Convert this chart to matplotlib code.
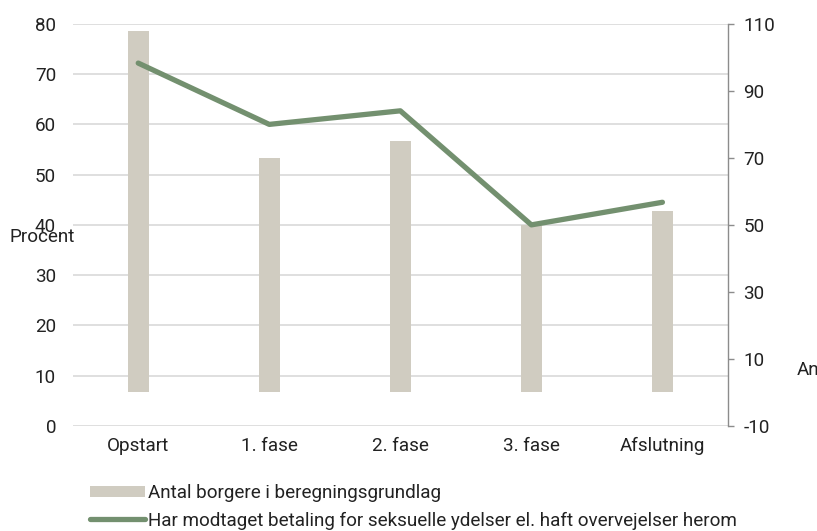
import matplotlib
matplotlib.use("Agg")
import matplotlib.pyplot as plt
from matplotlib.patches import Patch
from matplotlib.lines import Line2D

categories = ["Opstart", "1. fase", "2. fase", "3. fase", "Afslutning"]
antal_borgere = [108, 70, 75, 50, 54]
betaling_pct = [72.2, 60.0, 62.7, 40.0, 44.5]
left_ticks = [0, 10, 20, 30, 40, 50, 60, 70, 80]
right_ticks = [-10, 10, 30, 50, 70, 90, 110]

plt.rcParams['font.family'] = ['Roboto', 'DejaVu Sans']
plt.rcParams['axes.unicode_minus'] = False
bar_color = "#D0CCC1"
line_color = "#73906F"
txt = "#222222"
fs = 13.6

fig = plt.figure(figsize=(8.17, 5.31), dpi=100)
ax = fig.add_axes([0.089, 0.198, 0.802, 0.757])
ax2 = ax.twinx()

x = list(range(len(categories)))
ax2.bar(x, antal_borgere, width=0.16, color=bar_color, zorder=2)
ax.plot(x, betaling_pct, color=line_color, lw=3.8, solid_capstyle='round', zorder=3)

ax.set_zorder(ax2.get_zorder() + 1)
ax.patch.set_visible(False)

ax.set_xlim(-0.5, 4.5)
ax.set_ylim(0, 80)
ax.set_yticks(left_ticks)
ax.set_xticks(x)
ax.set_xticklabels(categories)
ax2.set_ylim(-10, 110)
ax2.set_yticks(right_ticks)

ax2.yaxis.grid(False)
for yv in left_ticks:
    ax2.axhline(-10 + (yv / 80) * 120, color="#D9D9D9", lw=1.2, zorder=1)

for a in (ax, ax2):
    for s in a.spines.values():
        s.set_visible(False)
ax2.spines['right'].set_visible(True)
ax2.spines['right'].set_color("#8C8C8C")
ax2.spines['right'].set_linewidth(1.0)

ax.tick_params(axis='y', length=0, pad=12, labelsize=fs, colors=txt)
ax.tick_params(axis='x', length=0, pad=8, labelsize=fs, colors=txt)
ax2.tick_params(axis='y', length=4, width=1, color="#8C8C8C", pad=7, labelsize=fs, labelcolor=txt, direction='out')

fig.text(0.012, (531 - 237) / 531, "Procent", fontsize=fs, color=txt, va='center', ha='left')
fig.text(797 / 817, (531 - 370) / 531, "Antal", fontsize=fs, color=txt, va='center', ha='left')

handles = [Patch(facecolor=bar_color, edgecolor='none'),
           Line2D([0], [0], color=line_color, lw=3.8, solid_capstyle='round')]
labels = ["Antal borgere i beregningsgrundlag",
          "Har modtaget betaling for seksuelle ydelser el. haft overvejelser herom"]
fig.legend(handles, labels, loc='upper left', bbox_to_anchor=(90 / 817, (531 - 484) / 531),
           frameon=False, fontsize=fs, handlelength=2.9, handleheight=0.5,
           handletextpad=0.15, labelspacing=0.5, borderpad=0, borderaxespad=0,
           labelcolor=txt)

fig.savefig("out.png", dpi=100)
